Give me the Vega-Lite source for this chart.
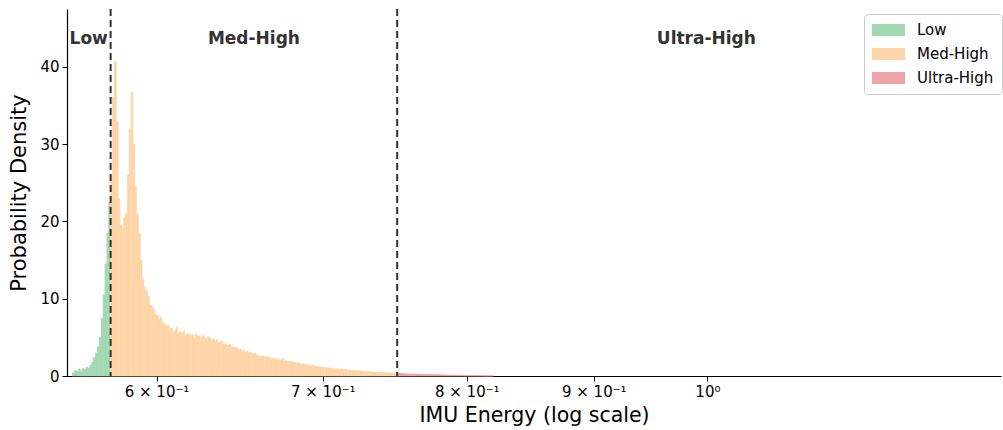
{
"$schema": "https://vega.github.io/schema/vega-lite/v6.json",
"width": 934, "height": 367,
"autosize": {"type": "none"},
"padding": {"left": 67, "top": 9, "right": 2, "bottom": 54},
"background": "white",
"config": {"view": {"stroke": null}, "font": "DejaVu Sans", "axis": {"grid": false}},
"datasets": {
"hist": [
{"lo":0.555,"hi":0.556,"d":0.4,"c":"Low"},{"lo":0.556,"hi":0.557,"d":0.7,"c":"Low"},{"lo":0.557,"hi":0.558,"d":0.5,"c":"Low"},{"lo":0.558,"hi":0.559,"d":0.9,"c":"Low"},{"lo":0.559,"hi":0.56,"d":0.6,"c":"Low"},
{"lo":0.56,"hi":0.561,"d":1.0,"c":"Low"},{"lo":0.561,"hi":0.562,"d":0.8,"c":"Low"},{"lo":0.562,"hi":0.563,"d":1.1,"c":"Low"},{"lo":0.563,"hi":0.564,"d":1.0,"c":"Low"},{"lo":0.564,"hi":0.565,"d":1.4,"c":"Low"},
{"lo":0.565,"hi":0.566,"d":1.8,"c":"Low"},{"lo":0.566,"hi":0.567,"d":2.4,"c":"Low"},{"lo":0.567,"hi":0.568,"d":3.0,"c":"Low"},{"lo":0.568,"hi":0.569,"d":3.8,"c":"Low"},{"lo":0.569,"hi":0.57,"d":5.0,"c":"Low"},
{"lo":0.57,"hi":0.571,"d":7.5,"c":"Low"},{"lo":0.571,"hi":0.572,"d":10.5,"c":"Low"},{"lo":0.572,"hi":0.573,"d":14.5,"c":"Low"},{"lo":0.573,"hi":0.574,"d":18.5,"c":"Low"},{"lo":0.574,"hi":0.575,"d":22.5,"c":"Low"},
{"lo":0.575,"hi":0.576,"d":26,"c":"Med-High"},{"lo":0.576,"hi":0.577,"d":36,"c":"Med-High"},{"lo":0.577,"hi":0.578,"d":40.7,"c":"Med-High"},{"lo":0.578,"hi":0.579,"d":33,"c":"Med-High"},{"lo":0.579,"hi":0.58,"d":23,"c":"Med-High"},
{"lo":0.58,"hi":0.581,"d":19.5,"c":"Med-High"},{"lo":0.581,"hi":0.582,"d":19.2,"c":"Med-High"},{"lo":0.582,"hi":0.583,"d":20.5,"c":"Med-High"},{"lo":0.583,"hi":0.584,"d":21,"c":"Med-High"},{"lo":0.584,"hi":0.585,"d":26,"c":"Med-High"},
{"lo":0.585,"hi":0.586,"d":32,"c":"Med-High"},{"lo":0.586,"hi":0.587,"d":36.7,"c":"Med-High"},{"lo":0.587,"hi":0.588,"d":30,"c":"Med-High"},{"lo":0.588,"hi":0.589,"d":24.5,"c":"Med-High"},{"lo":0.589,"hi":0.59,"d":21,"c":"Med-High"},
{"lo":0.59,"hi":0.591,"d":18.5,"c":"Med-High"},{"lo":0.591,"hi":0.592,"d":15,"c":"Med-High"},{"lo":0.592,"hi":0.593,"d":12.5,"c":"Med-High"},{"lo":0.593,"hi":0.594,"d":11.5,"c":"Med-High"},{"lo":0.594,"hi":0.595,"d":11.0,"c":"Med-High"},
{"lo":0.595,"hi":0.596,"d":10.3,"c":"Med-High"},{"lo":0.596,"hi":0.597,"d":9.2,"c":"Med-High"},{"lo":0.597,"hi":0.598,"d":9.0,"c":"Med-High"},{"lo":0.598,"hi":0.599,"d":8.6,"c":"Med-High"},{"lo":0.599,"hi":0.6,"d":8.0,"c":"Med-High"},
{"lo":0.6,"hi":0.601,"d":7.8,"c":"Med-High"},{"lo":0.601,"hi":0.602,"d":7.3,"c":"Med-High"},{"lo":0.602,"hi":0.603,"d":7.6,"c":"Med-High"},{"lo":0.603,"hi":0.604,"d":6.9,"c":"Med-High"},{"lo":0.604,"hi":0.605,"d":6.7,"c":"Med-High"},
{"lo":0.605,"hi":0.606,"d":6.4,"c":"Med-High"},{"lo":0.606,"hi":0.607,"d":6.6,"c":"Med-High"},{"lo":0.607,"hi":0.608,"d":6.1,"c":"Med-High"},{"lo":0.608,"hi":0.609,"d":6.2,"c":"Med-High"},{"lo":0.609,"hi":0.61,"d":5.8,"c":"Med-High"},
{"lo":0.61,"hi":0.611,"d":5.9,"c":"Med-High"},{"lo":0.611,"hi":0.612,"d":6.3,"c":"Med-High"},{"lo":0.612,"hi":0.613,"d":5.6,"c":"Med-High"},{"lo":0.613,"hi":0.614,"d":5.7,"c":"Med-High"},{"lo":0.614,"hi":0.615,"d":5.5,"c":"Med-High"},
{"lo":0.615,"hi":0.616,"d":5.8,"c":"Med-High"},{"lo":0.616,"hi":0.617,"d":5.3,"c":"Med-High"},{"lo":0.617,"hi":0.618,"d":5.5,"c":"Med-High"},{"lo":0.618,"hi":0.619,"d":5.4,"c":"Med-High"},{"lo":0.619,"hi":0.62,"d":5.2,"c":"Med-High"},
{"lo":0.62,"hi":0.621,"d":5.3,"c":"Med-High"},{"lo":0.621,"hi":0.622,"d":5.0,"c":"Med-High"},{"lo":0.622,"hi":0.623,"d":5.4,"c":"Med-High"},{"lo":0.623,"hi":0.624,"d":5.1,"c":"Med-High"},{"lo":0.624,"hi":0.625,"d":5.2,"c":"Med-High"},
{"lo":0.625,"hi":0.626,"d":4.9,"c":"Med-High"},{"lo":0.626,"hi":0.627,"d":5.3,"c":"Med-High"},{"lo":0.627,"hi":0.628,"d":5.0,"c":"Med-High"},{"lo":0.628,"hi":0.629,"d":4.8,"c":"Med-High"},{"lo":0.629,"hi":0.63,"d":5.1,"c":"Med-High"},
{"lo":0.63,"hi":0.631,"d":4.9,"c":"Med-High"},{"lo":0.631,"hi":0.632,"d":4.6,"c":"Med-High"},{"lo":0.632,"hi":0.633,"d":4.8,"c":"Med-High"},{"lo":0.633,"hi":0.634,"d":4.5,"c":"Med-High"},{"lo":0.634,"hi":0.635,"d":4.7,"c":"Med-High"},
{"lo":0.635,"hi":0.636,"d":4.4,"c":"Med-High"},{"lo":0.636,"hi":0.637,"d":4.3,"c":"Med-High"},{"lo":0.637,"hi":0.638,"d":4.5,"c":"Med-High"},{"lo":0.638,"hi":0.639,"d":4.1,"c":"Med-High"},{"lo":0.639,"hi":0.64,"d":4.2,"c":"Med-High"},
{"lo":0.64,"hi":0.641,"d":4.0,"c":"Med-High"},{"lo":0.641,"hi":0.642,"d":3.9,"c":"Med-High"},{"lo":0.642,"hi":0.643,"d":4.1,"c":"Med-High"},{"lo":0.643,"hi":0.644,"d":3.7,"c":"Med-High"},{"lo":0.644,"hi":0.645,"d":3.8,"c":"Med-High"},
{"lo":0.645,"hi":0.646,"d":3.6,"c":"Med-High"},{"lo":0.646,"hi":0.647,"d":3.7,"c":"Med-High"},{"lo":0.647,"hi":0.648,"d":3.4,"c":"Med-High"},{"lo":0.648,"hi":0.649,"d":3.5,"c":"Med-High"},{"lo":0.649,"hi":0.65,"d":3.3,"c":"Med-High"},
{"lo":0.65,"hi":0.651,"d":3.3,"c":"Med-High"},{"lo":0.651,"hi":0.652,"d":3.1,"c":"Med-High"},{"lo":0.652,"hi":0.653,"d":3.2,"c":"Med-High"},{"lo":0.653,"hi":0.654,"d":3.0,"c":"Med-High"},{"lo":0.654,"hi":0.655,"d":3.1,"c":"Med-High"},
{"lo":0.655,"hi":0.656,"d":2.9,"c":"Med-High"},{"lo":0.656,"hi":0.657,"d":2.8,"c":"Med-High"},{"lo":0.657,"hi":0.658,"d":2.9,"c":"Med-High"},{"lo":0.658,"hi":0.659,"d":2.7,"c":"Med-High"},{"lo":0.659,"hi":0.66,"d":2.6,"c":"Med-High"},
{"lo":0.66,"hi":0.661,"d":2.6,"c":"Med-High"},{"lo":0.661,"hi":0.662,"d":2.5,"c":"Med-High"},{"lo":0.662,"hi":0.663,"d":2.6,"c":"Med-High"},{"lo":0.663,"hi":0.664,"d":2.4,"c":"Med-High"},{"lo":0.664,"hi":0.665,"d":2.5,"c":"Med-High"},
{"lo":0.665,"hi":0.666,"d":2.45,"c":"Med-High"},{"lo":0.666,"hi":0.667,"d":2.4,"c":"Med-High"},{"lo":0.667,"hi":0.668,"d":2.2,"c":"Med-High"},{"lo":0.668,"hi":0.669,"d":2.3,"c":"Med-High"},{"lo":0.669,"hi":0.67,"d":2.2,"c":"Med-High"},
{"lo":0.67,"hi":0.671,"d":2.1,"c":"Med-High"},{"lo":0.671,"hi":0.672,"d":2.2,"c":"Med-High"},{"lo":0.672,"hi":0.673,"d":2.0,"c":"Med-High"},{"lo":0.673,"hi":0.674,"d":2.1,"c":"Med-High"},{"lo":0.674,"hi":0.675,"d":2.3,"c":"Med-High"},
{"lo":0.675,"hi":0.676,"d":1.9,"c":"Med-High"},{"lo":0.676,"hi":0.677,"d":2.0,"c":"Med-High"},{"lo":0.677,"hi":0.678,"d":1.9,"c":"Med-High"},{"lo":0.678,"hi":0.679,"d":1.8,"c":"Med-High"},{"lo":0.679,"hi":0.68,"d":1.9,"c":"Med-High"},
{"lo":0.68,"hi":0.681,"d":1.8,"c":"Med-High"},{"lo":0.681,"hi":0.682,"d":1.7,"c":"Med-High"},{"lo":0.682,"hi":0.683,"d":1.8,"c":"Med-High"},{"lo":0.683,"hi":0.684,"d":1.6,"c":"Med-High"},{"lo":0.684,"hi":0.685,"d":1.7,"c":"Med-High"},
{"lo":0.685,"hi":0.686,"d":1.6,"c":"Med-High"},{"lo":0.686,"hi":0.687,"d":1.5,"c":"Med-High"},{"lo":0.687,"hi":0.688,"d":1.6,"c":"Med-High"},{"lo":0.688,"hi":0.689,"d":1.5,"c":"Med-High"},{"lo":0.689,"hi":0.69,"d":1.4,"c":"Med-High"},
{"lo":0.69,"hi":0.691,"d":1.5,"c":"Med-High"},{"lo":0.691,"hi":0.692,"d":1.4,"c":"Med-High"},{"lo":0.692,"hi":0.693,"d":1.3,"c":"Med-High"},{"lo":0.693,"hi":0.694,"d":1.4,"c":"Med-High"},{"lo":0.694,"hi":0.695,"d":1.3,"c":"Med-High"},
{"lo":0.695,"hi":0.696,"d":1.2,"c":"Med-High"},{"lo":0.696,"hi":0.697,"d":1.3,"c":"Med-High"},{"lo":0.697,"hi":0.698,"d":1.2,"c":"Med-High"},{"lo":0.698,"hi":0.699,"d":1.2,"c":"Med-High"},{"lo":0.699,"hi":0.7,"d":1.1,"c":"Med-High"},
{"lo":0.7,"hi":0.701,"d":1.15,"c":"Med-High"},{"lo":0.701,"hi":0.702,"d":1.1,"c":"Med-High"},{"lo":0.702,"hi":0.703,"d":1.05,"c":"Med-High"},{"lo":0.703,"hi":0.704,"d":1.1,"c":"Med-High"},{"lo":0.704,"hi":0.705,"d":1.0,"c":"Med-High"},
{"lo":0.705,"hi":0.706,"d":1.0,"c":"Med-High"},{"lo":0.706,"hi":0.707,"d":0.95,"c":"Med-High"},{"lo":0.707,"hi":0.708,"d":1.0,"c":"Med-High"},{"lo":0.708,"hi":0.709,"d":0.9,"c":"Med-High"},{"lo":0.709,"hi":0.71,"d":0.95,"c":"Med-High"},
{"lo":0.71,"hi":0.711,"d":0.9,"c":"Med-High"},{"lo":0.711,"hi":0.712,"d":0.85,"c":"Med-High"},{"lo":0.712,"hi":0.713,"d":0.9,"c":"Med-High"},{"lo":0.713,"hi":0.714,"d":0.8,"c":"Med-High"},{"lo":0.714,"hi":0.715,"d":0.85,"c":"Med-High"},
{"lo":0.715,"hi":0.716,"d":0.8,"c":"Med-High"},{"lo":0.716,"hi":0.717,"d":0.75,"c":"Med-High"},{"lo":0.717,"hi":0.718,"d":0.8,"c":"Med-High"},{"lo":0.718,"hi":0.719,"d":0.72,"c":"Med-High"},{"lo":0.719,"hi":0.72,"d":0.75,"c":"Med-High"},
{"lo":0.72,"hi":0.721,"d":0.72,"c":"Med-High"},{"lo":0.721,"hi":0.722,"d":0.7,"c":"Med-High"},{"lo":0.722,"hi":0.723,"d":0.68,"c":"Med-High"},{"lo":0.723,"hi":0.724,"d":0.65,"c":"Med-High"},{"lo":0.724,"hi":0.725,"d":0.7,"c":"Med-High"},
{"lo":0.725,"hi":0.726,"d":0.62,"c":"Med-High"},{"lo":0.726,"hi":0.727,"d":0.6,"c":"Med-High"},{"lo":0.727,"hi":0.728,"d":0.63,"c":"Med-High"},{"lo":0.728,"hi":0.729,"d":0.58,"c":"Med-High"},{"lo":0.729,"hi":0.73,"d":0.6,"c":"Med-High"},
{"lo":0.73,"hi":0.731,"d":0.57,"c":"Med-High"},{"lo":0.731,"hi":0.732,"d":0.55,"c":"Med-High"},{"lo":0.732,"hi":0.733,"d":0.52,"c":"Med-High"},{"lo":0.733,"hi":0.734,"d":0.55,"c":"Med-High"},{"lo":0.734,"hi":0.735,"d":0.5,"c":"Med-High"},
{"lo":0.735,"hi":0.736,"d":0.48,"c":"Med-High"},{"lo":0.736,"hi":0.737,"d":0.5,"c":"Med-High"},{"lo":0.737,"hi":0.738,"d":0.46,"c":"Med-High"},{"lo":0.738,"hi":0.739,"d":0.45,"c":"Med-High"},{"lo":0.739,"hi":0.74,"d":0.47,"c":"Med-High"},
{"lo":0.74,"hi":0.741,"d":0.43,"c":"Med-High"},{"lo":0.741,"hi":0.742,"d":0.42,"c":"Med-High"},{"lo":0.742,"hi":0.743,"d":0.4,"c":"Med-High"},{"lo":0.743,"hi":0.744,"d":0.41,"c":"Med-High"},{"lo":0.744,"hi":0.745,"d":0.38,"c":"Med-High"},
{"lo":0.745,"hi":0.746,"d":0.37,"c":"Med-High"},{"lo":0.746,"hi":0.747,"d":0.36,"c":"Med-High"},{"lo":0.747,"hi":0.748,"d":0.35,"c":"Med-High"},{"lo":0.748,"hi":0.749,"d":0.34,"c":"Med-High"},{"lo":0.749,"hi":0.75,"d":0.33,"c":"Med-High"},
{"lo":0.75,"hi":0.751,"d":0.33,"c":"Ultra-High"},{"lo":0.751,"hi":0.752,"d":0.31,"c":"Ultra-High"},{"lo":0.752,"hi":0.753,"d":0.32,"c":"Ultra-High"},{"lo":0.753,"hi":0.754,"d":0.29,"c":"Ultra-High"},{"lo":0.754,"hi":0.755,"d":0.3,"c":"Ultra-High"},
{"lo":0.755,"hi":0.756,"d":0.28,"c":"Ultra-High"},{"lo":0.756,"hi":0.757,"d":0.29,"c":"Ultra-High"},{"lo":0.757,"hi":0.758,"d":0.27,"c":"Ultra-High"},{"lo":0.758,"hi":0.759,"d":0.26,"c":"Ultra-High"},{"lo":0.759,"hi":0.76,"d":0.27,"c":"Ultra-High"},
{"lo":0.76,"hi":0.761,"d":0.25,"c":"Ultra-High"},{"lo":0.761,"hi":0.762,"d":0.26,"c":"Ultra-High"},{"lo":0.762,"hi":0.763,"d":0.24,"c":"Ultra-High"},{"lo":0.763,"hi":0.764,"d":0.23,"c":"Ultra-High"},{"lo":0.764,"hi":0.765,"d":0.25,"c":"Ultra-High"},
{"lo":0.765,"hi":0.766,"d":0.22,"c":"Ultra-High"},{"lo":0.766,"hi":0.767,"d":0.23,"c":"Ultra-High"},{"lo":0.767,"hi":0.768,"d":0.21,"c":"Ultra-High"},{"lo":0.768,"hi":0.769,"d":0.22,"c":"Ultra-High"},{"lo":0.769,"hi":0.77,"d":0.2,"c":"Ultra-High"},
{"lo":0.77,"hi":0.771,"d":0.21,"c":"Ultra-High"},{"lo":0.771,"hi":0.772,"d":0.19,"c":"Ultra-High"},{"lo":0.772,"hi":0.773,"d":0.2,"c":"Ultra-High"},{"lo":0.773,"hi":0.774,"d":0.18,"c":"Ultra-High"},{"lo":0.774,"hi":0.775,"d":0.19,"c":"Ultra-High"},
{"lo":0.775,"hi":0.776,"d":0.17,"c":"Ultra-High"},{"lo":0.776,"hi":0.777,"d":0.18,"c":"Ultra-High"},{"lo":0.777,"hi":0.778,"d":0.16,"c":"Ultra-High"},{"lo":0.778,"hi":0.779,"d":0.17,"c":"Ultra-High"},{"lo":0.779,"hi":0.78,"d":0.15,"c":"Ultra-High"},
{"lo":0.78,"hi":0.781,"d":0.16,"c":"Ultra-High"},{"lo":0.781,"hi":0.782,"d":0.14,"c":"Ultra-High"},{"lo":0.782,"hi":0.783,"d":0.15,"c":"Ultra-High"},{"lo":0.783,"hi":0.784,"d":0.13,"c":"Ultra-High"},{"lo":0.784,"hi":0.785,"d":0.14,"c":"Ultra-High"},
{"lo":0.785,"hi":0.786,"d":0.12,"c":"Ultra-High"},{"lo":0.786,"hi":0.787,"d":0.13,"c":"Ultra-High"},{"lo":0.787,"hi":0.788,"d":0.11,"c":"Ultra-High"},{"lo":0.788,"hi":0.789,"d":0.12,"c":"Ultra-High"},{"lo":0.789,"hi":0.79,"d":0.1,"c":"Ultra-High"},
{"lo":0.79,"hi":0.791,"d":0.11,"c":"Ultra-High"},{"lo":0.791,"hi":0.792,"d":0.1,"c":"Ultra-High"},{"lo":0.792,"hi":0.793,"d":0.09,"c":"Ultra-High"},{"lo":0.793,"hi":0.794,"d":0.1,"c":"Ultra-High"},{"lo":0.794,"hi":0.795,"d":0.08,"c":"Ultra-High"},
{"lo":0.795,"hi":0.796,"d":0.09,"c":"Ultra-High"},{"lo":0.796,"hi":0.797,"d":0.08,"c":"Ultra-High"},{"lo":0.797,"hi":0.798,"d":0.07,"c":"Ultra-High"},{"lo":0.798,"hi":0.799,"d":0.08,"c":"Ultra-High"},{"lo":0.799,"hi":0.8,"d":0.07,"c":"Ultra-High"},
{"lo":0.8,"hi":0.801,"d":0.07,"c":"Ultra-High"},{"lo":0.801,"hi":0.802,"d":0.06,"c":"Ultra-High"},{"lo":0.802,"hi":0.803,"d":0.07,"c":"Ultra-High"},{"lo":0.803,"hi":0.804,"d":0.05,"c":"Ultra-High"},{"lo":0.804,"hi":0.805,"d":0.06,"c":"Ultra-High"},
{"lo":0.805,"hi":0.806,"d":0.05,"c":"Ultra-High"},{"lo":0.806,"hi":0.807,"d":0.05,"c":"Ultra-High"},{"lo":0.807,"hi":0.808,"d":0.04,"c":"Ultra-High"},{"lo":0.808,"hi":0.809,"d":0.05,"c":"Ultra-High"},{"lo":0.809,"hi":0.81,"d":0.04,"c":"Ultra-High"},
{"lo":0.81,"hi":0.811,"d":0.04,"c":"Ultra-High"},{"lo":0.811,"hi":0.812,"d":0.03,"c":"Ultra-High"},{"lo":0.812,"hi":0.813,"d":0.04,"c":"Ultra-High"},{"lo":0.813,"hi":0.814,"d":0.03,"c":"Ultra-High"},{"lo":0.814,"hi":0.815,"d":0.03,"c":"Ultra-High"},
{"lo":0.815,"hi":0.816,"d":0.02,"c":"Ultra-High"},{"lo":0.816,"hi":0.817,"d":0.03,"c":"Ultra-High"},{"lo":0.817,"hi":0.818,"d":0.02,"c":"Ultra-High"},{"lo":0.818,"hi":0.819,"d":0.02,"c":"Ultra-High"},{"lo":0.819,"hi":0.82,"d":0.02,"c":"Ultra-High"}
],
"th": [{"t": 0.575}, {"t": 0.75}],
"lab": [{"label": "Low", "x": 0.5634, "y": 43.6}, {"label": "Med-High", "x": 0.6567, "y": 43.6}, {"label": "Ultra-High", "x": 0.999, "y": 43.6}]
},
"layer": [
{
"data": {"name": "hist"},
"mark": {"type": "bar", "strokeWidth": 0.7, "opacity": 1, "orient": "vertical"},
"encoding": {
"x": {"field": "lo", "type": "quantitative", "title": "IMU Energy (log scale)",
 "scale": {"type": "log", "domain": [0.5522, 1.3129], "nice": false, "padding": 0},
 "axis": {"values": [0.6, 0.7, 0.8, 0.9, 1], "labelExpr": "datum.value >= 0.99 ? '10⁰' : round(datum.value*10) + ' × 10⁻¹'",
  "labelFontSize": 15, "labelColor": "black", "titleFontSize": 20.5, "titleColor": "black", "titleFontWeight": "normal",
  "tickSize": 5, "tickColor": "black", "tickWidth": 1, "domainColor": "black", "domainWidth": 1.2, "labelPadding": 3, "titlePadding": 6, "labelFlush": false}},
"x2": {"field": "hi"},
"y": {"field": "d", "type": "quantitative", "title": "Probability Density",
 "scale": {"domain": [0, 47.5], "nice": false, "zero": true, "padding": 0},
 "axis": {"values": [0, 10, 20, 30, 40], "labelFontSize": 15, "labelColor": "black", "titleFontSize": 21, "titleColor": "black", "titleFontWeight": "normal",
  "tickSize": 5, "tickColor": "black", "tickWidth": 1, "domainColor": "black", "domainWidth": 1.2, "labelPadding": 3, "titlePadding": 10}},
"y2": {"datum": 0},
"color": {"field": "c", "type": "nominal",
 "scale": {"domain": ["Low", "Med-High", "Ultra-High"], "range": ["#a3d9b1", "#fdd5a8", "#eea3a6"]},
 "legend": {"orient": "none", "legendX": 797, "legendY": 5, "title": null, "fillColor": "white", "strokeColor": "#cccccc", "cornerRadius": 4, "padding": 8,
  "labelFontSize": 15, "labelColor": "black", "symbolType": "M-1,-0.36H1V0.36H-1Z", "symbolSize": 1089, "symbolStrokeWidth": 0, "symbolOpacity": 1, "labelOffset": 12, "rowPadding": 8, "clipHeight": 16}},
"stroke": {"field": "c", "type": "nominal", "legend": null,
 "scale": {"domain": ["Low", "Med-High", "Ultra-High"], "range": ["#a3d9b1", "#fdd5a8", "#eea3a6"]}}
}
},
{
"data": {"name": "th"},
"mark": {"type": "rule", "color": "#333333", "strokeWidth": 2, "strokeDash": [7, 4]},
"encoding": {"x": {"field": "t", "type": "quantitative", "title": "IMU Energy (log scale)"}}
},
{
"data": {"name": "lab"},
"mark": {"type": "text", "fontWeight": "bold", "fontSize": 17, "color": "#333333", "baseline": "middle", "align": "center"},
"encoding": {
"x": {"field": "x", "type": "quantitative", "title": "IMU Energy (log scale)"},
"y": {"field": "y", "type": "quantitative", "title": "Probability Density"},
"text": {"field": "label"}
}
}
]
}
